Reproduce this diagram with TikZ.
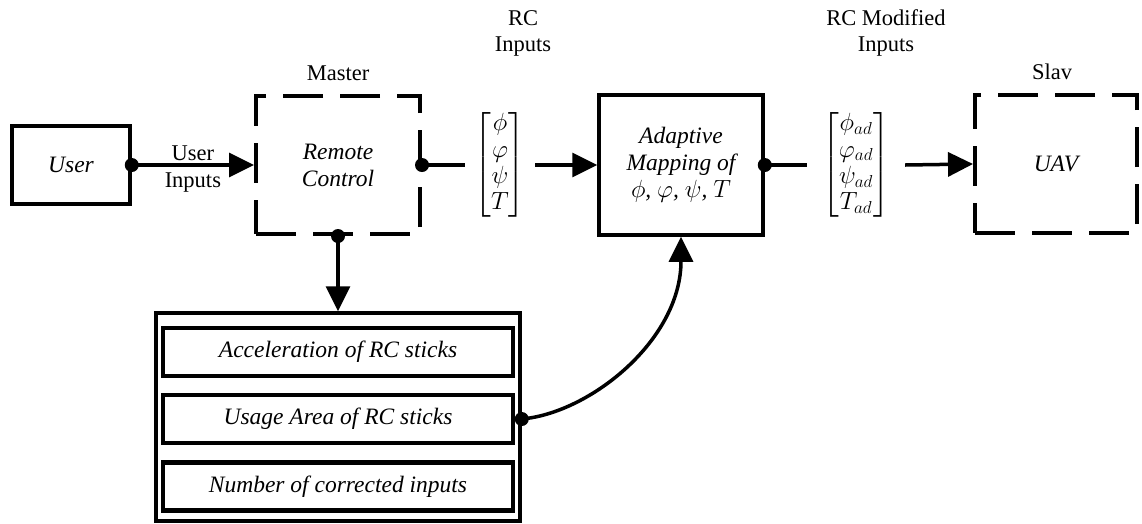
\documentclass[tikz,border=0pt]{standalone}
\usepackage{amsmath}
\usepackage{fontspec}
\setmainfont{Liberation Serif}
\usetikzlibrary{arrows.meta}
\begin{document}
\begin{tikzpicture}[x=1pt,y=-1pt,
  every node/.style={font=\fontsize{23.5}{27}\selectfont},
  solidbox/.style={draw,line width=3.5pt,rectangle,inner sep=0pt,align=center,font=\fontsize{23.5}{27}\selectfont\itshape},
  dashbox/.style={draw,line width=4pt,rectangle,inner sep=0pt,align=center,dash pattern=on 40pt off 17pt,font=\fontsize{23.5}{27}\selectfont\itshape},
  innerbox/.style={draw,line width=4.5pt,rectangle,inner sep=0pt,minimum width=350pt,minimum height=48pt,font=\fontsize{23.5}{27}\selectfont\itshape},
  conn/.style={line width=3.5pt},
  arr/.style={line width=3.5pt,-{Triangle[length=25pt,width=24pt]}},
  lbl/.style={align=center,inner sep=0pt,font=\fontsize{22.5}{26}\selectfont},
  dot/.style={circle,fill,inner sep=0pt,minimum size=14pt}
]
\useasboundingbox (0,0) rectangle (1142,523);

% main blocks
\node[solidbox,minimum width=118pt,minimum height=78pt] (user) at (71,165) {User};
\node[dashbox,minimum width=164pt,minimum height=138pt] (rc) at (338,165) {Remote\\Control};
\node[solidbox,minimum width=164pt,minimum height=140pt] (adm) at (681,165) {Adaptive\\Mapping of\\$\phi$, $\varphi$, $\psi$, $T$};
\node[dashbox,minimum width=162pt,minimum height=138pt] (uav) at (1056,164) {UAV};

% captions
\node[lbl] (master) at (338,73) {Master};
\node[lbl] (slav) at (1052,72) {Slav};
\node[lbl] (rcin) at (523,33) {RC\\Inputs};
\node[lbl] (rcmod) at (886,33) {RC Modified\\Inputs};

% vectors
\node[inner sep=0pt,minimum width=70pt] (vin) at (500,165)
  {$\renewcommand{\arraystretch}{0.97}\begin{bmatrix}\phi\\ \varphi\\ \psi\\ T\end{bmatrix}$};
\node[inner sep=0pt,minimum width=98pt] (vout) at (856,165)
  {$\renewcommand{\arraystretch}{0.97}\begin{bmatrix}\phi_{ad}\\ \varphi_{ad}\\ \psi_{ad}\\ T_{ad}\end{bmatrix}$};

% list block
\node[draw,line width=3.5pt,rectangle,inner sep=0pt,minimum width=364pt,minimum height=208pt] (list) at (338,417) {};
\node[innerbox] (acc) at (338,352) {Acceleration of RC sticks};
\node[innerbox] (usage) at (338,419) {Usage Area of RC sticks};
\node[innerbox] (num) at (338,486.5) {Number of corrected inputs};
\coordinate (usageout) at (list.east |- usage.east);

% connectors
\draw[arr] (user.east) -- node[lbl,above=3pt] {User} node[lbl,below=6pt] {Inputs} (rc.west);
\draw[conn] (rc.east) -- (vin.west);
\draw[arr] (vin.east) -- (adm.west);
\draw[conn] (adm.east) -- (vout.west);
\draw[arr] (vout.east) -- (uav.west);
\draw[arr] (rc.south) -- (list.north);
\draw[arr] (usageout) .. controls (590,413) and (681,340) .. (adm.south);

% dots
\node[dot] (d1) at (user.east) {};
\node[dot] (d2) at (rc.east) {};
\node[dot] (d3) at (rc.south) {};
\node[dot] (d4) at (adm.east) {};
\node[dot] (d5) at (usageout) {};
\end{tikzpicture}
\end{document}
